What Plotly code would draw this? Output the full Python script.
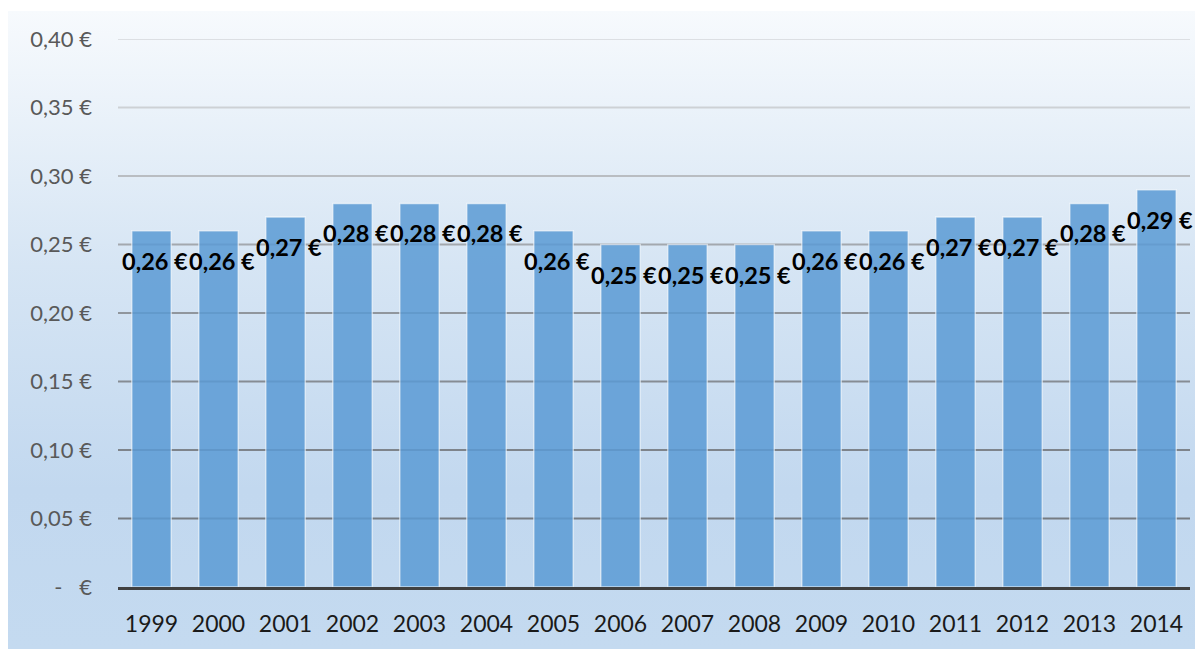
import base64
import plotly.graph_objects as go

years = ["1999", "2000", "2001", "2002", "2003", "2004", "2005", "2006",
         "2007", "2008", "2009", "2010", "2011", "2012", "2013", "2014"]
prices = [0.26, 0.26, 0.27, 0.28, 0.28, 0.28, 0.26, 0.25,
          0.25, 0.25, 0.26, 0.26, 0.27, 0.27, 0.28, 0.29]
y_ticks = [0.0, 0.05, 0.10, 0.15, 0.20, 0.25, 0.30, 0.35, 0.40]
y_ticktext = ["-\u00a0\u00a0\u00a0€", "0,05\u00a0€", "0,10\u00a0€", "0,15\u00a0€", "0,20\u00a0€",
              "0,25\u00a0€", "0,30\u00a0€", "0,35\u00a0€", "0,40\u00a0€"]
grid_colors = ["#5f656c", "#767c83", "#7e848b", "#868c93", "#90969d",
               "#a3a8ae", "#b9bdc2", "#cdd1d5", "#dcdfe3"]

W, H = 1195, 641
L, R, T, B = 110, 13, 31, 62
pw, ph = W - L - R, H - T - B

svg = ("<svg xmlns='http://www.w3.org/2000/svg' width='100' height='100' preserveAspectRatio='none'>"
       "<defs><linearGradient id='g' x1='0' y1='0' x2='0' y2='1'>"
       "<stop offset='0' stop-color='#f7fafd'/>"
       "<stop offset='0.4' stop-color='#d6e5f4'/>"
       "<stop offset='0.75' stop-color='#c2d8ef'/>"
       "<stop offset='1' stop-color='#c4daf0'/>"
       "</linearGradient></defs><rect width='100' height='100' fill='url(#g)'/></svg>")
uri = "data:image/svg+xml;base64," + base64.b64encode(svg.encode()).decode()

img_x0 = (0 - L) / pw
img_x1 = (W - L) / pw
img_y0 = (H - B - 3) / ph
img_y1 = (H - B - H) / ph

fig = go.Figure()
fig.add_trace(go.Bar(
    x=years, y=prices,
    marker=dict(color="#5b9bd5", opacity=0.85,
                line=dict(color="rgba(255,255,255,0.65)", width=1.5)),
    hoverinfo="skip",
))

shapes = []
for tv, gc in zip(y_ticks[1:], grid_colors[1:]):
    shapes.append(dict(type="line", xref="paper", yref="y", x0=0, x1=1, y0=tv, y1=tv,
                       line=dict(color=gc, width=2), layer="below"))

annotations = []
for i, v in enumerate(prices):
    annotations.append(dict(
        x=i, y=v, xref="x", yref="y", showarrow=False,
        text="<b>" + f"{v:.2f}".replace(".", ",") + "\u00a0€</b>",
        font=dict(family="Lato", size=23.5, color="#000000"),
        yanchor="middle", xanchor="center", yshift=-30, xshift=3,
    ))

fig.update_layout(
    width=W, height=H,
    margin=dict(l=L, r=R, t=T, b=B, pad=0),
    paper_bgcolor="white",
    plot_bgcolor="rgba(0,0,0,0)",
    bargap=0.41,
    showlegend=False,
    shapes=shapes,
    annotations=annotations,
    images=[dict(source=uri, xref="paper", yref="paper", x=img_x0, y=img_y0,
                 sizex=img_x1 - img_x0, sizey=img_y0 - img_y1,
                 xanchor="left", yanchor="top", sizing="stretch", layer="below")],
    xaxis=dict(type="category", range=[-0.5, len(years) - 0.5],
               showgrid=False, showline=True, linecolor="#404040", linewidth=3,
               ticks="", tickfont=dict(family="Lato", size=23, color="#1a1a1a"),
               ticklabelstandoff=14, fixedrange=True),
    yaxis=dict(range=[0, 0.4], tickvals=y_ticks, ticktext=y_ticktext,
               showgrid=False, zeroline=False, ticks="",
               tickfont=dict(family="Lato", size=22, color="#595959"),
               ticklabelstandoff=25, fixedrange=True),
)

fig.write_html("out.html")
